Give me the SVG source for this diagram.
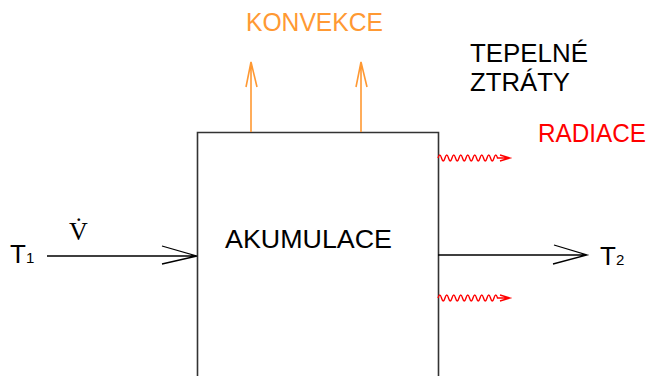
<svg xmlns="http://www.w3.org/2000/svg" width="650" height="376" viewBox="0 0 650 376">
<style>
.t{font-family:"Liberation Sans",Arial,sans-serif;font-size:25px}
.blk{fill:#000}
.or{fill:#FF9933}
.rd{fill:#FF0000}
.ln{stroke:#000;stroke-width:1.3;fill:none}
.orl{stroke:#FF9933;stroke-width:1.6;fill:none}
.rdl{stroke:#FF0000;stroke-width:1.4;fill:none}
</style>
<rect width="650" height="376" fill="#fff"/>
<g id="box">
<path d="M197.5,380 V132.5 H438.5 V380" fill="none" stroke="#333" stroke-width="1.6"/>
<text class="t blk" x="225" y="248" textLength="167" lengthAdjust="spacingAndGlyphs">AKUMULACE</text>
</g>
<g id="labels">
<text class="t or" x="246" y="31" textLength="137" lengthAdjust="spacingAndGlyphs">KONVEKCE</text>
<text class="t blk" x="470" y="62" textLength="118" lengthAdjust="spacingAndGlyphs">TEPELNÉ</text>
<text class="t blk" x="470" y="91" textLength="100" lengthAdjust="spacingAndGlyphs">ZTRÁTY</text>
<text class="t rd" x="538" y="142" textLength="108" lengthAdjust="spacingAndGlyphs">RADIACE</text>
<text class="blk" x="10" y="263" style="font-family:'Liberation Sans',Arial,sans-serif;font-size:26px">T<tspan font-size="15">1</tspan></text>
<text class="blk" x="600" y="265" style="font-family:'Liberation Sans',Arial,sans-serif;font-size:26px">T<tspan font-size="15">2</tspan></text>
<text class="blk" x="69" y="240" style="font-family:'Liberation Serif','Times New Roman',serif;font-size:26px">V̇</text>
</g>
<g id="connectors">
<path class="ln" d="M47,256 H197 M162,246 L197,256 L162,264"/>
<path class="ln" d="M438,255 H587 M554,245 L587,255 L553,264"/>
<path class="orl" d="M251,132 V62 M246,87 L251,62 L257,87"/>
<path class="orl" d="M361,132 V62 M356,87 L361,62 L367,87"/>
<path class="rdl" d="M438,158 q1.75,-6 3.5,0 t3.5,0 t3.5,0 t3.5,0 t3.5,0 t3.5,0 t3.5,0 t3.5,0 t3.5,0 t3.5,0 t3.5,0 t3.5,0 t3.5,0 t3.5,0 t3.5,0 t3.5,0 t3.5,0 H510 M500,155 L510,158 L500,161"/>
<path class="rdl" d="M438,298 q1.75,-6 3.5,0 t3.5,0 t3.5,0 t3.5,0 t3.5,0 t3.5,0 t3.5,0 t3.5,0 t3.5,0 t3.5,0 t3.5,0 t3.5,0 t3.5,0 t3.5,0 t3.5,0 t3.5,0 t3.5,0 H510 M500,295 L510,298 L500,301"/>
</g>
</svg>
